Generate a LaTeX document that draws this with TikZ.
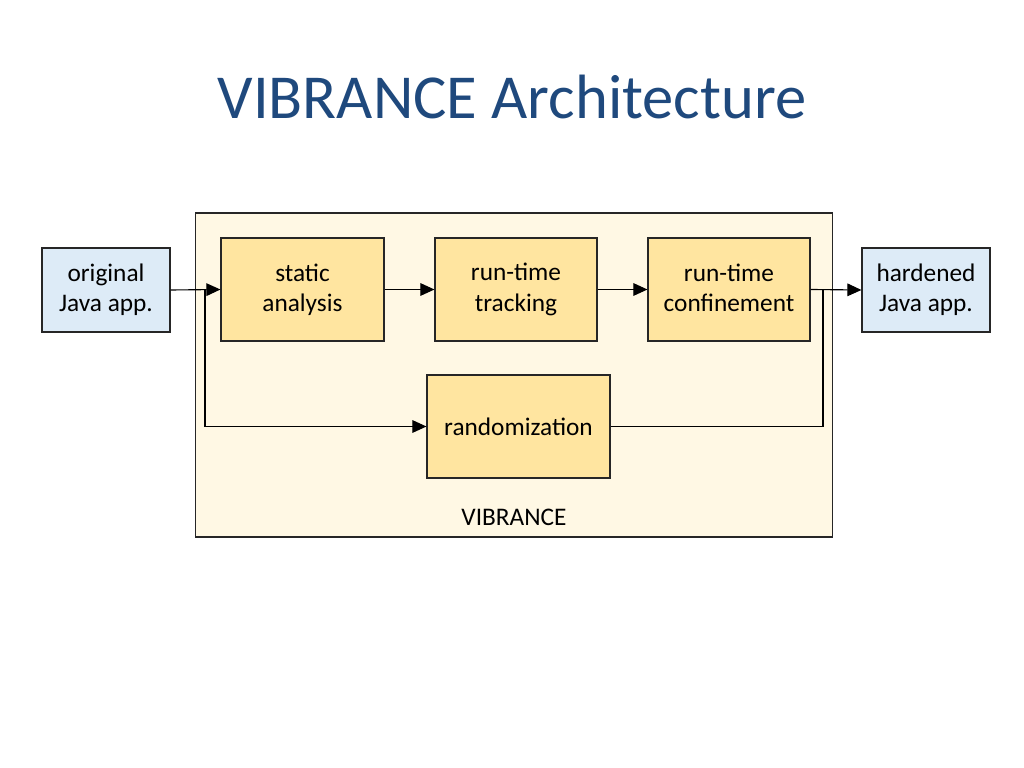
\documentclass[tikz,border=0pt]{standalone}
\usepackage{fontspec}
\setmainfont{Carlito}
\usetikzlibrary{arrows.meta}
\definecolor{titleblue}{HTML}{1F497D}
\definecolor{framefill}{HTML}{FFF8E4}
\definecolor{stagefill}{HTML}{FFE5A0}
\definecolor{appfill}{HTML}{DDEBF7}
\newcommand\linestrut{\rule[-3pt]{0pt}{18.5pt}}
\tikzset{
    stage/.style={draw=black!85, fill=stagefill, line width=0.8pt, align=center,
        minimum width=4.05cm, minimum height=2.575cm, font=\fontsize{18}{21.5}\selectfont,
        execute at begin node=\linestrut, execute at end node=\linestrut},
    app/.style={draw=black!85, fill=appfill, line width=0.8pt, align=center,
        minimum width=3.2cm, minimum height=2.1cm, font=\fontsize{18}{21.5}\selectfont,
        execute at begin node=\linestrut, execute at end node=\linestrut},
    flow/.style={line width=0.8pt, -{Triangle[length=10pt, width=9pt]}}
}
\begin{document}
\begin{tikzpicture}[x=0.025cm, y=0.025cm]
    \useasboundingbox (0,0) rectangle (1024,768);
    % 标题
    \node[titleblue, font=\fontsize{44.5}{50}\selectfont] (title) at (512,671) {VIBRANCE Architecture};

    % VIBRANCE 框
    \node[draw=black!85, fill=framefill, line width=0.8pt, minimum width=15.9cm, minimum height=8.1cm] (frame) at (514,393) {};
    \node[font=\fontsize{18}{21.5}\selectfont] (framelabel) at (514,251) {VIBRANCE};

    % 输入与输出
    \node[app] (orig) at (106,478) {original\\Java app.};
    \node[app] (hard) at (926,478) {hardened\\Java app.};

    % 各阶段
    \node[stage, minimum width=4.075cm] (static) at (302.5,478.5) {static\\analysis};
    \node[stage] (track) at (516,478.5) {run-time\\tracking};
    \node[stage] (confine) at (729,478.5) {run-time\\confinement};
    \node[stage, minimum width=4.575cm, execute at begin node={}, execute at end node={}] (random) at (518.5,341.5) {randomization};

    % 连线
    \coordinate (split) at (205,478);
    \coordinate (merge) at (823,478);
    \draw[flow] (orig.east) -- (static.west);
    \draw[flow] (split) |- (random.west);
    \draw[flow] (static.east) -- (track.west);
    \draw[flow] (track.east) -- (confine.west);
    \draw[flow] (confine.east) -- (hard.west);
    \draw[line width=0.8pt] (random.east) -| (merge);
\end{tikzpicture}
\end{document}
